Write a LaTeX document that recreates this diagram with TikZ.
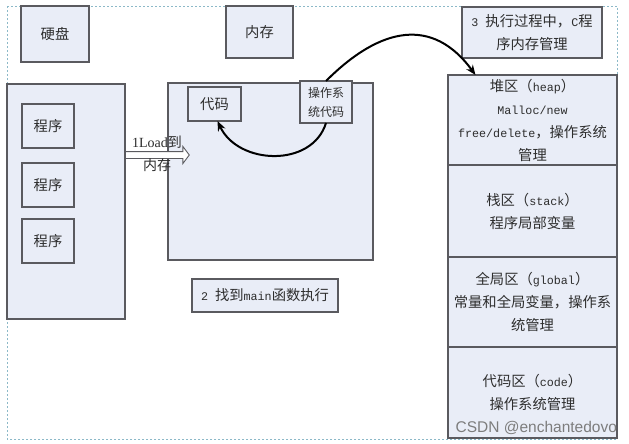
\documentclass[tikz,border=0pt]{standalone}
\usepackage{fontspec}
\setmainfont{Liberation Serif}
\setmonofont{Liberation Mono}
\setsansfont{Liberation Sans}
\newfontfamily\cjk{Noto Sans CJK SC}
\usetikzlibrary{arrows.meta,shapes.arrows}
\definecolor{boxfill}{RGB}{233,237,247}
\definecolor{boxline}{RGB}{90,90,95}
\definecolor{txt}{RGB}{45,45,45}
\definecolor{framec}{RGB}{140,185,200}
\definecolor{wmc}{RGB}{125,125,125}
\newcommand\zh[1]{{\cjk #1}}
\newcommand\la[1]{{\ttfamily\fontsize{11.7}{23}\selectfont #1}}
\begin{document}
\begin{tikzpicture}[x=1pt,y=-1pt,
  every node/.style={inner sep=0pt, outer sep=0pt},
  box/.style={draw=boxline, fill=boxfill, line width=1.2pt, text=txt, align=center,
    font=\fontsize{14.3}{23}\selectfont},
  smallbox/.style={box, font=\fontsize{12}{19}\selectfont},
  curvearrow/.style={line width=2pt, -{Stealth[length=10pt,width=8pt]}}]
\useasboundingbox (0,0) rectangle (629,444);
\fill[white] (0,0) rectangle (629,444);
% selection frame
\draw[framec, dash pattern=on 2pt off 2pt, line width=0.7pt] (7,6) -- (617,6) -- (617,439) -- (7,439) -- cycle;
% top labels
\node[box, minimum width=68pt, minimum height=56pt] (yp) at (55,34) {\zh{硬盘}};
\node[box, minimum width=67pt, minimum height=52pt] (nc) at (259.5,32) {\zh{内存}};
\node[box, minimum width=140pt, minimum height=51pt] (s3) at (532,32.5)
  {\la{3 }\zh{执行过程中，}\la{C}\zh{程}\\\zh{序内存管理}};
% disk
\node[box, minimum width=118pt, minimum height=235pt] (lb) at (66,201.5) {};
\node[box, minimum width=52pt, minimum height=44pt] (p1) at (48,126) {\zh{程序}};
\node[box, minimum width=52pt, minimum height=44pt] (p2) at (48,185) {\zh{程序}};
\node[box, minimum width=52pt, minimum height=44pt] (p3) at (48,241) {\zh{程序}};
% memory
\node[box, minimum width=205pt, minimum height=177pt] (mem) at (270.5,171.5) {};
\node[box, minimum width=53pt, minimum height=34pt] (dm) at (214.5,104) {\zh{代码}};
\node[smallbox, minimum width=52pt, minimum height=42pt] (os) at (326,102) {\zh{操作系}\\\zh{统代码}};
\node[box, minimum width=146pt, minimum height=33pt] (m2) at (265,295.5)
  {\la{2 }\zh{找到}\la{main}\zh{函数执行}};
% memory layout
\node[box, minimum width=169pt, minimum height=90pt] (heap) at (532.5,120)
  {\zh{堆区（}\la{heap}\zh{）}\\\la{Malloc/new}\\\la{free/delete}\zh{，操作系统}\\\zh{管理}};
\node[box, minimum width=169pt, minimum height=92pt] (stack) at (532.5,211)
  {\zh{栈区（}\la{stack}\zh{）}\\\zh{程序局部变量}};
\node[box, minimum width=169pt, minimum height=90pt] (glob) at (532.5,302)
  {\zh{全局区（}\la{global}\zh{）}\\\zh{常量和全局变量，操作系}\\\zh{统管理}};
\node[box, minimum width=169pt, minimum height=91pt] (code) at (532.5,392.5)
  {\zh{代码区（}\la{code}\zh{）}\\\zh{操作系统管理}};
% load arrow
\node[single arrow, draw=boxline, fill=white, line width=0.9pt, minimum height=64pt,
  inner sep=3pt, single arrow head extend=5pt, single arrow tip angle=106] (ld) at (156,155) {};
\node[text=txt, align=center, font=\fontsize{14}{23}\selectfont] (ldt) at (157,154)
  {1Load\zh{到}\\\zh{内存}};
% curved arrows
\draw[curvearrow] (os.south) .. controls (312,168) and (238,165) .. ([xshift=3pt]dm.south);
\draw[curvearrow] (os.north) .. controls (381,26) and (433,17) .. ([xshift=-57pt]heap.north);
% watermark
\node[font=\sffamily\fontsize{15.5}{16}\selectfont, text=wmc, anchor=east] (wm) at (617,428) {CSDN @enchantedovo};
\end{tikzpicture}
\end{document}
